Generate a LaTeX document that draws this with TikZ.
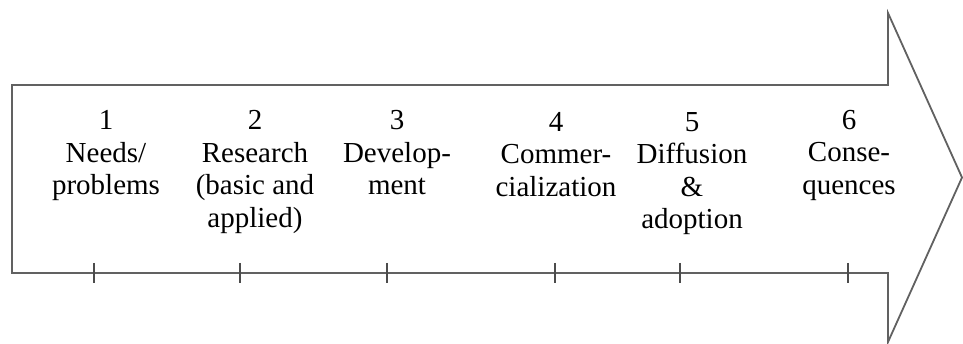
\documentclass[tikz,border=0pt]{standalone}
\usepackage{fontspec}
\setmainfont{Liberation Serif}
\begin{document}
\begin{tikzpicture}[x=1pt,y=1pt,
  outline/.style={draw=black!62,line width=1.8pt,line join=miter},
  tick/.style={draw=black!70,line width=1.5pt},
  stage/.style={align=center,anchor=north,inner sep=0pt,
    font=\fontsize{29}{32.5}\selectfont}]
\useasboundingbox (0,0) rectangle (963,344);
% arrow outline
\coordinate (bl) at (12,71);
\coordinate (tl) at (12,259);
\coordinate (tr) at (888,259);
\coordinate (ht) at (888,331);
\coordinate (tip) at (962,166.5);
\coordinate (hb) at (888,2);
\coordinate (br) at (888,71);
\draw[outline] (tl) -- (tr) -- (ht) -- (tip) -- (hb) -- (br) -- (bl) -- cycle;
% ticks
\foreach \x/\n in {94/t1,240/t2,387/t3,555/t4,680/t5,848/t6}{
  \coordinate (\n a) at (\x,81);
  \coordinate (\n b) at (\x,61);
  \draw[tick] (\n a) -- (\n b);
}
% stage labels
\node[stage] (s1) at (106,233.5) {1\\Needs/\\problems};
\node[stage] (s2) at (255,233.5) {2\\Research\\(basic and\\applied)};
\node[stage] (s3) at (397,233.5) {3\\Develop-\\ment};
\node[stage] (s4) at (556,232) {4\\Commer-\\cialization};
\node[stage] (s5) at (692,232) {5\\Diffusion\\\&\\adoption};
\node[stage] (s6) at (849,234) {6\\Conse-\\quences};
\end{tikzpicture}
\end{document}
